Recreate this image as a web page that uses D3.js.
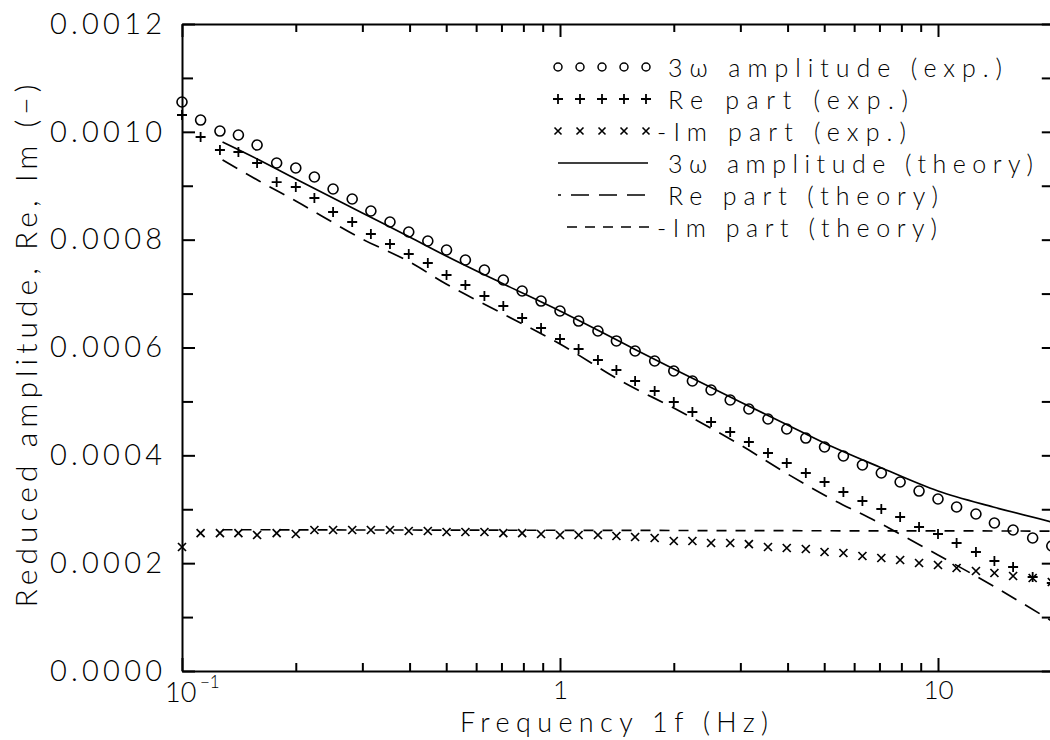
<!DOCTYPE html>
<html>
<head>
<meta charset="utf-8">
<script src="https://cdn.jsdelivr.net/npm/d3@7"></script>
<style>
  html, body { margin: 0; padding: 0; background: #fff; }
  svg { display: block; }
  text { font-family: "Lato", "DejaVu Sans", sans-serif; font-weight: 300; fill: #000; }
</style>
</head>
<body>
<svg id="chart" width="1050" height="740"></svg>
<script>
// ---------- data ----------
const freq = [0.1, 0.112, 0.126, 0.141, 0.158, 0.178, 0.2, 0.224, 0.251, 0.282,
              0.316, 0.355, 0.398, 0.447, 0.501, 0.562, 0.631, 0.708, 0.794, 0.891,
              1.0, 1.12, 1.26, 1.41, 1.58, 1.78, 2.0, 2.24, 2.51, 2.82,
              3.16, 3.55, 3.98, 4.47, 5.01, 5.62, 6.31, 7.08, 7.94, 8.91,
              10.0, 11.2, 12.6, 14.1, 15.8, 17.8, 20.0];

const ampExp = [0.0010553, 0.0010219, 0.0010015, 0.0009941, 0.0009756, 0.0009422, 0.0009329, 0.0009162, 0.0008940, 0.0008754,
                0.0008532, 0.0008328, 0.0008142, 0.0007975, 0.0007808, 0.0007623, 0.0007437, 0.0007252, 0.0007048, 0.0006862,
                0.0006677, 0.0006491, 0.0006306, 0.0006121, 0.0005935, 0.0005750, 0.0005564, 0.0005379, 0.0005212, 0.0005026,
                0.0004859, 0.0004674, 0.0004488, 0.0004321, 0.0004155, 0.0003988, 0.0003821, 0.0003672, 0.0003505, 0.0003338,
                0.0003190, 0.0003042, 0.0002912, 0.0002745, 0.0002615, 0.0002467, 0.0002318];

const reExp = [0.0010312, 0.0009904, 0.0009663, 0.0009626, 0.0009422, 0.0009069, 0.0008977, 0.0008773, 0.0008513, 0.0008328,
               0.0008105, 0.0007920, 0.0007734, 0.0007567, 0.0007345, 0.0007159, 0.0006955, 0.0006770, 0.0006547, 0.0006362,
               0.0006158, 0.0005972, 0.0005768, 0.0005583, 0.0005379, 0.0005193, 0.0004989, 0.0004804, 0.0004618, 0.0004433,
               0.0004247, 0.0004043, 0.0003858, 0.0003672, 0.0003505, 0.0003320, 0.0003153, 0.0003005, 0.0002856, 0.0002671,
               0.0002541, 0.0002374, 0.0002207, 0.0002040, 0.0001929, 0.0001743, 0.0001632];

const imExp = [0.0002300, 0.0002559, 0.0002559, 0.0002559, 0.0002522, 0.0002559, 0.0002541, 0.0002615, 0.0002615, 0.0002615,
               0.0002615, 0.0002615, 0.0002597, 0.0002597, 0.0002578, 0.0002578, 0.0002578, 0.0002559, 0.0002559, 0.0002541,
               0.0002522, 0.0002522, 0.0002522, 0.0002504, 0.0002485, 0.0002467, 0.0002411, 0.0002411, 0.0002374, 0.0002374,
               0.0002355, 0.0002300, 0.0002281, 0.0002263, 0.0002207, 0.0002189, 0.0002133, 0.0002096, 0.0002059, 0.0002003,
               0.0001966, 0.0001910, 0.0001855, 0.0001818, 0.0001762, 0.0001725, 0.0001651];

const thFreq = [0.128, 0.16, 0.2, 0.3, 0.4, 0.5, 0.7, 1, 1.5, 2, 3, 4, 5, 7, 10, 14, 20];
const ampTh = [0.0009811, 0.0009478, 0.0009125, 0.0008495, 0.0008049, 0.0007697, 0.0007196, 0.0006677, 0.0006046,
               0.0005601, 0.0004989, 0.0004563, 0.0004229, 0.0003784, 0.0003338, 0.0003042, 0.0002764];
const reTh  = [0.0009478, 0.0009088, 0.0008717, 0.0008012, 0.0007586, 0.0007178, 0.0006640, 0.0006065, 0.0005323,
               0.0004878, 0.0004192, 0.0003654, 0.0003264, 0.0002745, 0.0002151, 0.0001577, 0.0000927];
const imTh  = [0.0002620, 0.0002620, 0.0002618, 0.0002615, 0.0002615, 0.0002613, 0.0002611, 0.0002610, 0.0002608,
               0.0002606, 0.0002604, 0.0002602, 0.0002601, 0.0002600, 0.0002598, 0.0002597, 0.0002595];

const yMajorTicks = [0, 0.0002, 0.0004, 0.0006, 0.0008, 0.0010, 0.0012];
const yMinorTicks = [0.0001, 0.0003, 0.0005, 0.0007, 0.0009, 0.0011];
const xMajorTicks = [0.1, 1, 10];
const xMinorTicks = [0.2, 0.3, 0.4, 0.5, 0.6, 0.7, 0.8, 0.9, 2, 3, 4, 5, 6, 7, 8, 9, 20];
const xTickLabels = ["10", "1", "10"];

const legendItems = [
  {label: "3ω amplitude (exp.)",   kind: "circle", len: 334, tx: 668},
  {label: "Re part (exp.)",        kind: "plus",   len: 240, tx: 668},
  {label: "-Im part (exp.)",       kind: "cross",  len: 249, tx: 657},
  {label: "3ω amplitude (theory)", kind: "solid",  len: 365, tx: 668},
  {label: "Re part (theory)",      kind: "redash", len: 270, tx: 668},
  {label: "-Im part (theory)",     kind: "imdash", len: 280, tx: 657}
];

// ---------- layout ----------
const svg = d3.select("#chart");
const L = 182, B = 671, T = 24;
const x = d3.scaleLog().domain([0.1, 20]).range([L, L + 378 * Math.log10(200)]);
const R = x.range()[1];
const y = d3.scaleLinear().domain([0, 0.0012]).range([B, T]);

const ink = "#000";
const axisStyle = g => {
  g.selectAll("path.domain").attr("stroke", ink).attr("stroke-width", 2);
  g.selectAll(".tick line").attr("stroke", ink).attr("stroke-width", 2);
};

// left axis (major, labeled)
const gL = svg.append("g").attr("transform", `translate(${L},0)`)
  .call(d3.axisLeft(y).tickValues(yMajorTicks).tickSizeInner(-13).tickSizeOuter(0)
        .tickPadding(20).tickFormat(d3.format(".4f")));
gL.call(axisStyle);
gL.selectAll(".tick text").attr("font-size", 29).attr("fill", ink).attr("font-family", null)
  .attr("textLength", 112).attr("lengthAdjust", "spacing");
svg.append("g").attr("transform", `translate(${L},0)`)
  .call(d3.axisLeft(y).tickValues(yMinorTicks).tickSizeInner(-11).tickSizeOuter(0).tickFormat(""))
  .call(axisStyle).select("path.domain").remove();

// right axis (ticks only)
svg.append("g").attr("transform", `translate(${R},0)`)
  .call(d3.axisRight(y).tickValues(yMajorTicks.concat(yMinorTicks)).tickSizeInner(-10).tickSizeOuter(0).tickFormat(""))
  .call(axisStyle);

// bottom axis
const gB = svg.append("g").attr("transform", `translate(0,${B})`)
  .call(d3.axisBottom(x).tickValues(xMajorTicks).tickSizeInner(-13).tickSizeOuter(0)
        .tickPadding(10).tickFormat((d, i) => i === 0 ? "" : xTickLabels[i]));
gB.call(axisStyle);
gB.selectAll(".tick text").attr("font-size", 26).attr("fill", ink).attr("font-family", null);
svg.append("g").attr("transform", `translate(0,${B})`)
  .call(d3.axisBottom(x).tickValues(xMinorTicks).tickSizeInner(-8).tickSizeOuter(0).tickFormat(""))
  .call(axisStyle).select("path.domain").remove();

// 10^-1 label (kept clear of the "0.0000" label)
svg.append("text").attr("x", x(0.1) - 17).attr("y", 702)
  .attr("font-size", 27).text(xTickLabels[0]);
svg.append("text").attr("x", x(0.1) + 18).attr("y", 688).attr("font-size", 17).text("−1");

// top axis
svg.append("g").attr("transform", `translate(0,${T})`)
  .call(d3.axisTop(x).tickValues(xMajorTicks).tickSizeInner(-13).tickSizeOuter(0).tickFormat(""))
  .call(axisStyle);
svg.append("g").attr("transform", `translate(0,${T})`)
  .call(d3.axisTop(x).tickValues(xMinorTicks).tickSizeInner(-8).tickSizeOuter(0).tickFormat(""))
  .call(axisStyle).select("path.domain").remove();

// axis titles
svg.append("text").attr("x", 614).attr("y", 732).attr("text-anchor", "middle")
  .attr("font-size", 27).attr("textLength", 308).attr("lengthAdjust", "spacing")
  .text("Frequency 1f (Hz)");
svg.append("text").attr("transform", "translate(37,346) rotate(-90)").attr("text-anchor", "middle")
  .attr("font-size", 30).attr("textLength", 523).attr("lengthAdjust", "spacing")
  .text("Reduced amplitude, Re, Im (−)");

// ---------- theory curves ----------
const lineGen = d3.line().x(d => x(d[0])).y(d => y(d[1])).curve(d3.curveMonotoneX);
const plot = svg.append("g");
plot.append("path").datum(thFreq.map((f, i) => [f, ampTh[i]]))
  .attr("d", lineGen).attr("fill", "none").attr("stroke", ink).attr("stroke-width", 1.7);
plot.append("path").datum(thFreq.map((f, i) => [f, reTh[i]]))
  .attr("d", lineGen).attr("fill", "none").attr("stroke", ink).attr("stroke-width", 1.7)
  .attr("stroke-dasharray", "17,10");
plot.append("path").datum(thFreq.map((f, i) => [f, imTh[i]]))
  .attr("d", lineGen).attr("fill", "none").attr("stroke", ink).attr("stroke-width", 1.7)
  .attr("stroke-dasharray", "10,9");

// ---------- experimental markers ----------
const plusPath = "M-5,0H5M0,-5V5";
const crossPath = "M-4,-4L4,4M-4,4L4,-4";
plot.selectAll("circle.amp").data(freq.map((f, i) => [f, ampExp[i]])).join("circle")
  .attr("class", "amp").attr("cx", d => x(d[0])).attr("cy", d => y(d[1])).attr("r", 5)
  .attr("fill", "none").attr("stroke", ink).attr("stroke-width", 1.6);
plot.selectAll("path.re").data(freq.map((f, i) => [f, reExp[i]])).join("path")
  .attr("class", "re").attr("d", plusPath)
  .attr("transform", d => `translate(${x(d[0])},${y(d[1])})`)
  .attr("stroke", ink).attr("stroke-width", 1.8);
plot.selectAll("path.im").data(freq.map((f, i) => [f, imExp[i]])).join("path")
  .attr("class", "im").attr("d", crossPath)
  .attr("transform", d => `translate(${x(d[0])},${y(d[1])})`)
  .attr("stroke", ink).attr("stroke-width", 1.7);

// ---------- legend ----------
const leg = svg.append("g");
const symX = [558, 580, 602, 624, 646];
legendItems.forEach((it, i) => {
  const base = 77 + 32 * i, cy = base - 10;
  const g = leg.append("g");
  if (it.kind === "circle") {
    symX.forEach(sx => g.append("circle").attr("cx", sx).attr("cy", cy).attr("r", 4)
      .attr("fill", "none").attr("stroke", ink).attr("stroke-width", 1.5));
  } else if (it.kind === "plus") {
    symX.forEach(sx => g.append("path").attr("d", plusPath).attr("transform", `translate(${sx},${cy})`)
      .attr("stroke", ink).attr("stroke-width", 1.8));
  } else if (it.kind === "cross") {
    symX.forEach(sx => g.append("path").attr("d", "M-3.5,-3.5L3.5,3.5M-3.5,3.5L3.5,-3.5")
      .attr("transform", `translate(${sx},${cy})`).attr("stroke", ink).attr("stroke-width", 1.6));
  } else {
    const ln = g.append("line").attr("y1", cy).attr("y2", cy).attr("stroke", ink).attr("stroke-width", 1.7);
    if (it.kind === "solid") ln.attr("x1", 558).attr("x2", 648);
    if (it.kind === "redash") ln.attr("x1", 558).attr("x2", 648).attr("stroke-dasharray", "18,10").attr("stroke-dashoffset", 15);
    if (it.kind === "imdash") ln.attr("x1", 567).attr("x2", 650).attr("stroke-dasharray", "10,8");
  }
  g.append("text").attr("x", it.tx).attr("y", base).attr("font-size", 25)
    .attr("textLength", it.len).attr("lengthAdjust", "spacing").text(it.label);
});
</script>
</body>
</html>
